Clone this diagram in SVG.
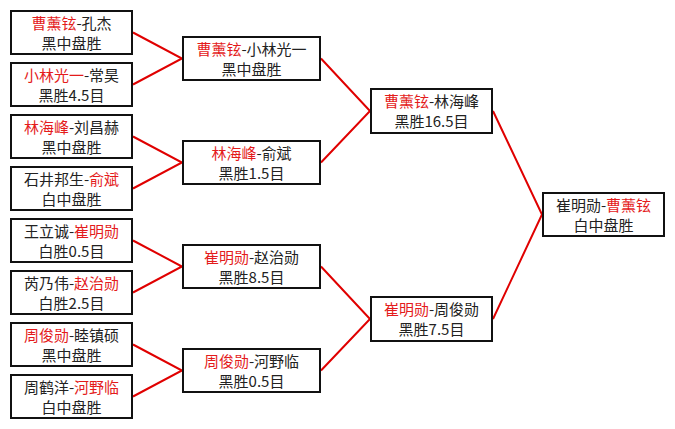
<svg xmlns="http://www.w3.org/2000/svg" width="675" height="429" viewBox="0 0 675 429">
<style>
.box{fill:#fff;stroke:#111;stroke-width:2}
.t{font-family:"Noto Sans CJK SC","Noto Sans CJK JP",sans-serif;font-size:15px;fill:#222;text-anchor:middle}
.r{fill:#e41b1b}
.ln{stroke:#e00000;stroke-width:2;fill:none}
</style>
<rect width="675" height="429" fill="#fff"/>
<g id="connectors">
<path class="ln" d="M133,32.5 L182,58.5 L133,84.5"/>
<path class="ln" d="M133,136.5 L182,162.5 L133,188.5"/>
<path class="ln" d="M133,240.5 L182,266.5 L133,292.5"/>
<path class="ln" d="M133,344.5 L182,370.5 L133,396.5"/>
<path class="ln" d="M321,58.5 L370,111 L321,162.5"/>
<path class="ln" d="M321,266.5 L370,319 L321,370.5"/>
<path class="ln" d="M493,111 L542,214.5 L493,319"/>
</g>
<g id="m1">
<rect class="box" x="11" y="11" width="121" height="43"/>
<text class="t" x="71.5" y="29"><tspan class="r">曹薰铉</tspan>-孔杰</text>
<text class="t" x="71.5" y="49">黑中盘胜</text>
</g>
<g id="m2">
<rect class="box" x="11" y="63" width="121" height="43"/>
<text class="t" x="71.5" y="81"><tspan class="r">小林光一</tspan>-常昊</text>
<text class="t" x="71.5" y="101">黑胜4.5目</text>
</g>
<g id="m3">
<rect class="box" x="11" y="115" width="121" height="43"/>
<text class="t" x="71.5" y="133"><tspan class="r">林海峰</tspan>-刘昌赫</text>
<text class="t" x="71.5" y="153">黑中盘胜</text>
</g>
<g id="m4">
<rect class="box" x="11" y="167" width="121" height="43"/>
<text class="t" x="71.5" y="185">石井邦生-<tspan class="r">俞斌</tspan></text>
<text class="t" x="71.5" y="205">白中盘胜</text>
</g>
<g id="m5">
<rect class="box" x="11" y="219" width="121" height="43"/>
<text class="t" x="71.5" y="237">王立诚-<tspan class="r">崔明勋</tspan></text>
<text class="t" x="71.5" y="257">白胜0.5目</text>
</g>
<g id="m6">
<rect class="box" x="11" y="271" width="121" height="43"/>
<text class="t" x="71.5" y="289">芮乃伟-<tspan class="r">赵治勋</tspan></text>
<text class="t" x="71.5" y="309">白胜2.5目</text>
</g>
<g id="m7">
<rect class="box" x="11" y="323" width="121" height="43"/>
<text class="t" x="71.5" y="341"><tspan class="r">周俊勋</tspan>-睦镇硕</text>
<text class="t" x="71.5" y="361">黑中盘胜</text>
</g>
<g id="m8">
<rect class="box" x="11" y="375" width="121" height="43"/>
<text class="t" x="71.5" y="393">周鹤洋-<tspan class="r">河野临</tspan></text>
<text class="t" x="71.5" y="413">白中盘胜</text>
</g>
<g id="q1">
<rect class="box" x="183" y="37" width="137" height="43"/>
<text class="t" x="251.5" y="55"><tspan class="r">曹薰铉</tspan>-小林光一</text>
<text class="t" x="251.5" y="75">黑中盘胜</text>
</g>
<g id="q2">
<rect class="box" x="183" y="141" width="137" height="43"/>
<text class="t" x="251.5" y="159"><tspan class="r">林海峰</tspan>-俞斌</text>
<text class="t" x="251.5" y="179">黑胜1.5目</text>
</g>
<g id="q3">
<rect class="box" x="183" y="245" width="137" height="43"/>
<text class="t" x="251.5" y="263"><tspan class="r">崔明勋</tspan>-赵治勋</text>
<text class="t" x="251.5" y="283">黑胜8.5目</text>
</g>
<g id="q4">
<rect class="box" x="183" y="349" width="137" height="43"/>
<text class="t" x="251.5" y="367"><tspan class="r">周俊勋</tspan>-河野临</text>
<text class="t" x="251.5" y="387">黑胜0.5目</text>
</g>
<g id="s1">
<rect class="box" x="371" y="89" width="121" height="44"/>
<text class="t" x="431.5" y="107"><tspan class="r">曹薰铉</tspan>-林海峰</text>
<text class="t" x="431.5" y="127">黑胜16.5目</text>
</g>
<g id="s2">
<rect class="box" x="371" y="297" width="121" height="44"/>
<text class="t" x="431.5" y="315"><tspan class="r">崔明勋</tspan>-周俊勋</text>
<text class="t" x="431.5" y="335">黑胜7.5目</text>
</g>
<g id="final">
<rect class="box" x="543" y="193" width="121" height="43"/>
<text class="t" x="603.5" y="211">崔明勋-<tspan class="r">曹薰铉</tspan></text>
<text class="t" x="603.5" y="231">白中盘胜</text>
</g>
</svg>
